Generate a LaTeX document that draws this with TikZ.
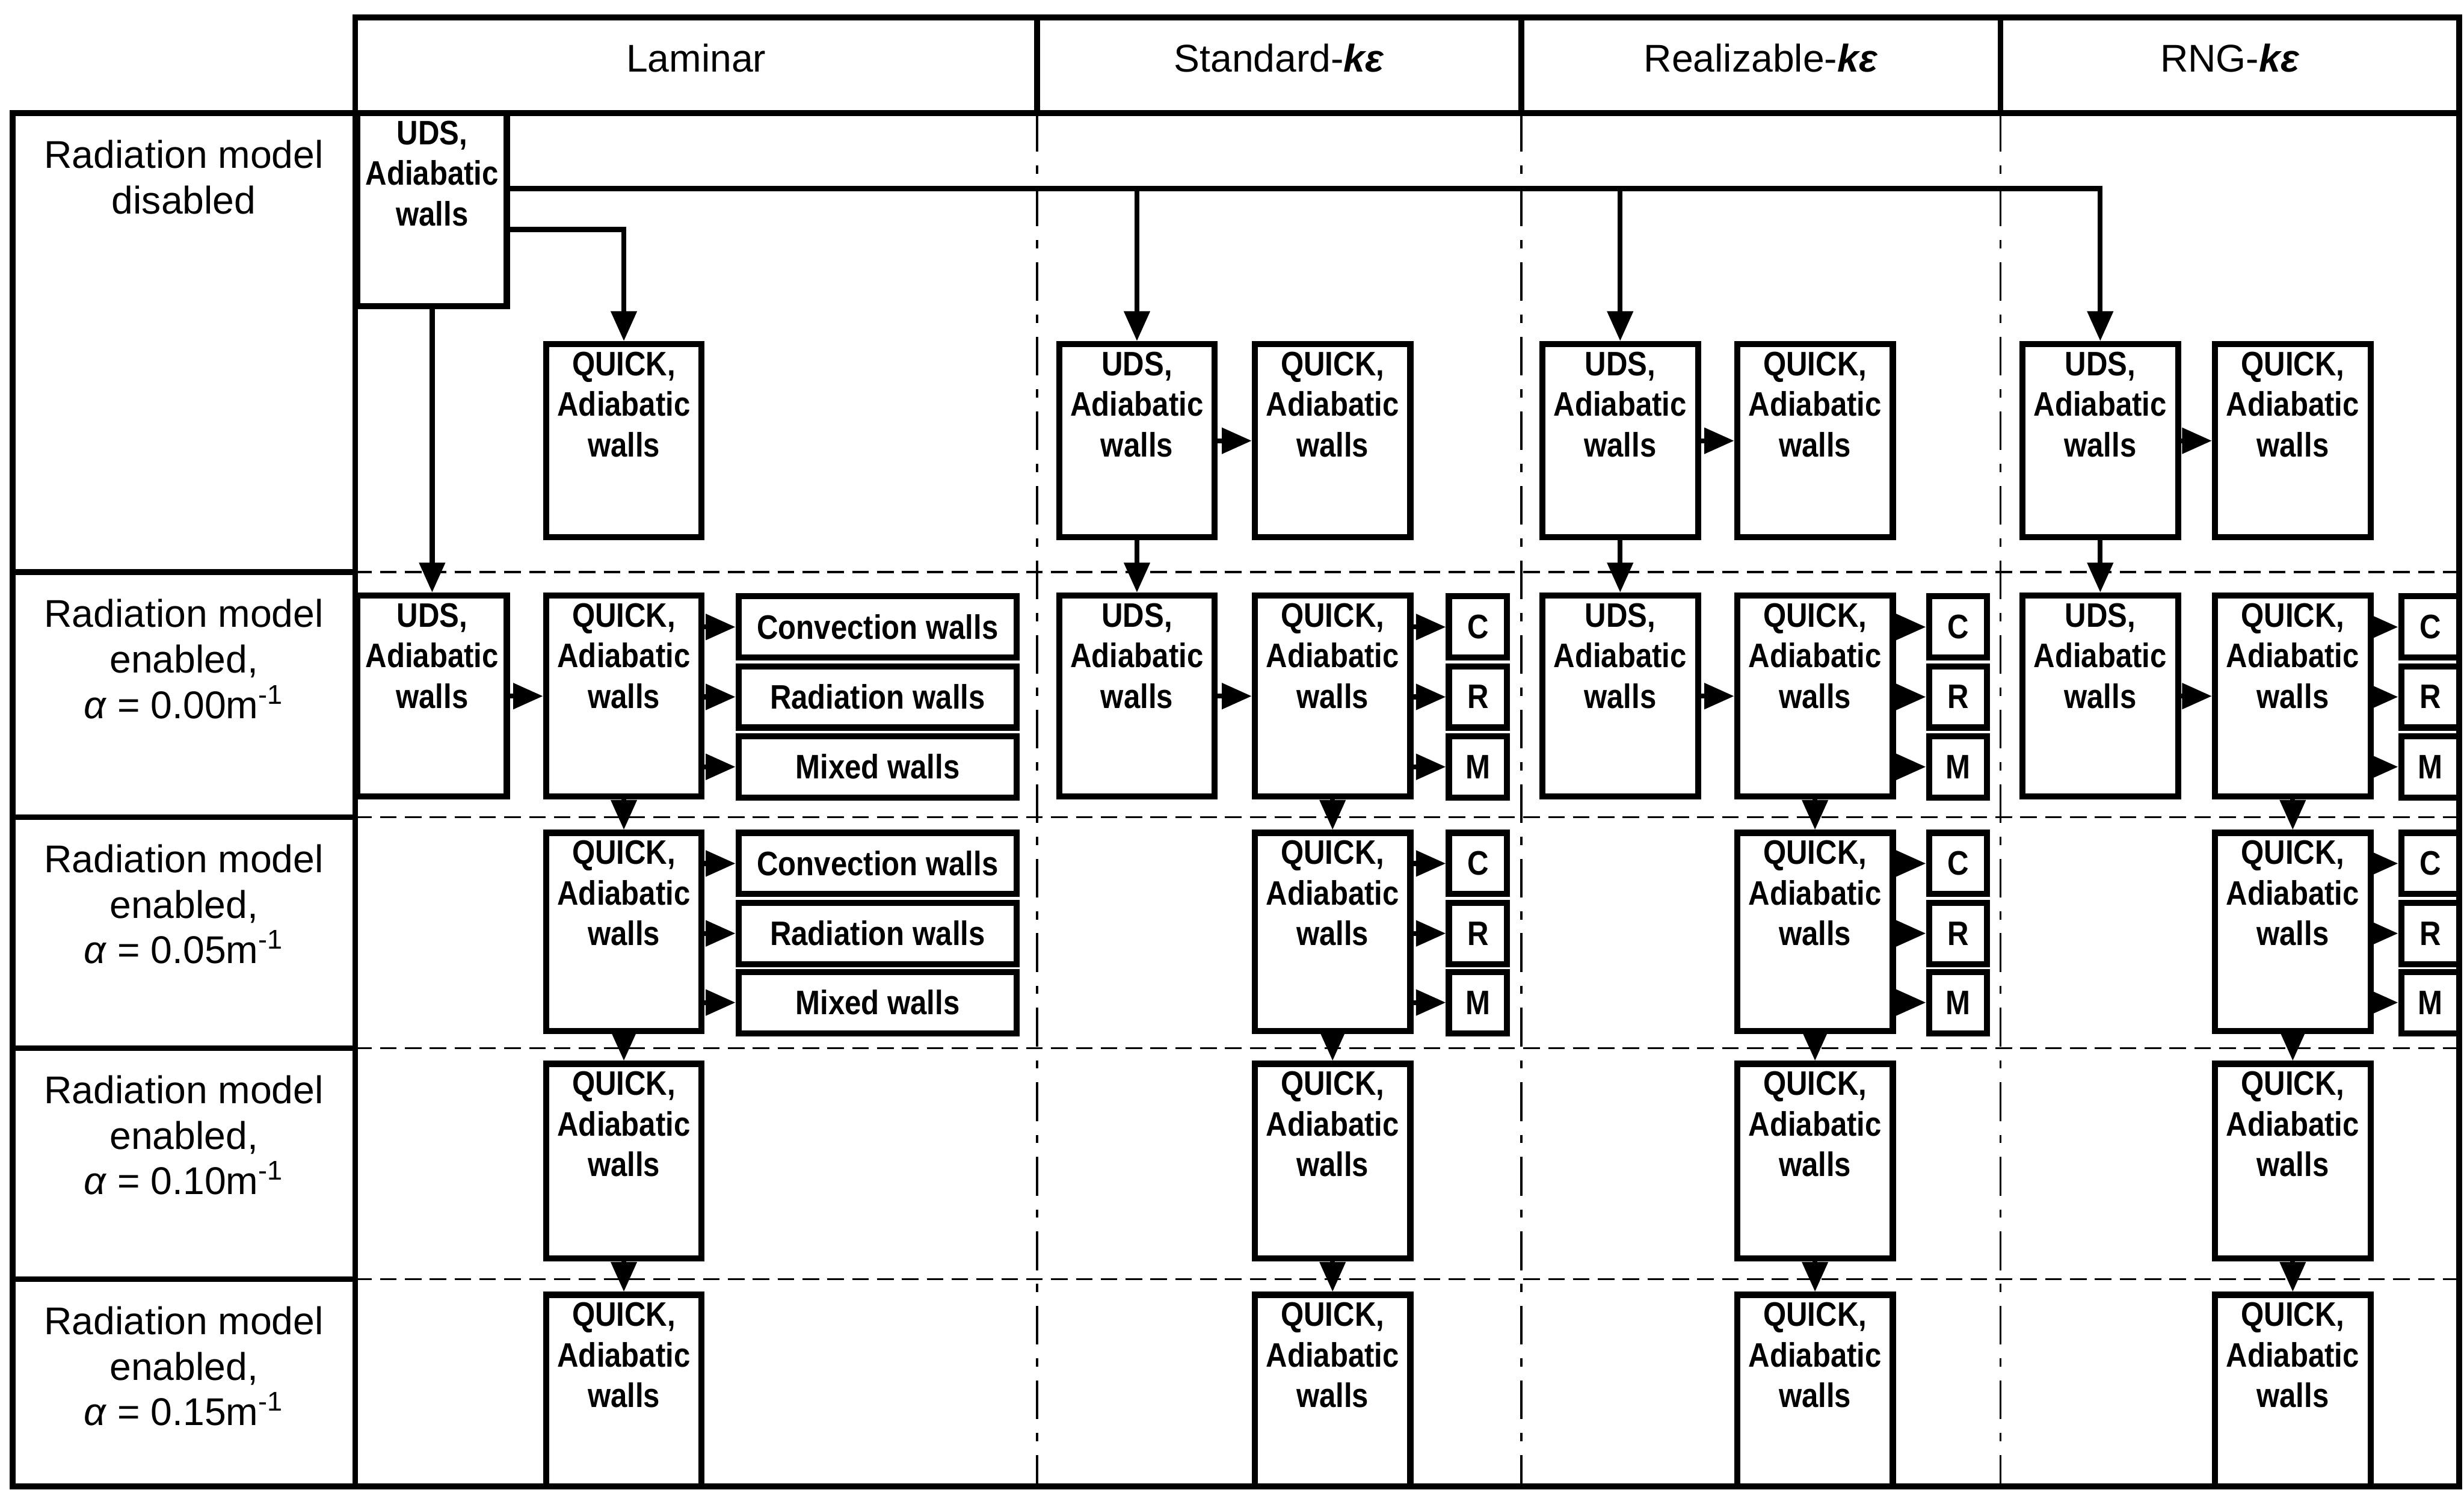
\documentclass[tikz,border=0pt]{standalone}
\usepackage{fontspec}
\setmainfont{Liberation Sans}
\newfontfamily\boxfont[FakeStretch=0.87]{Liberation Sans}
\usepackage{tikz}
\usetikzlibrary{arrows.meta}

\begin{document}
\begin{tikzpicture}[
    frame/.style={line width=2.1pt},
    rowsep/.style={line width=0.8pt, dash pattern=on 6pt off 3pt},
    colsep/.style={line width=0.8pt, dash pattern=on 14pt off 5pt on 3pt off 5pt},
    head/.style={font=\fontsize{14}{17}\selectfont},
    rowlabel/.style={font=\fontsize{14}{16.5}\selectfont, align=center, anchor=north, inner sep=0pt},
    boxtext/.style={font=\boxfont\bfseries\fontsize{12.3}{14.7}\selectfont, align=center, anchor=north, inner sep=0pt, yshift=-0.13cm},
    block/.style={rectangle, draw, fill=white, line width=2.2pt, minimum width=1.98cm, inner sep=0pt, font=\boxfont\bfseries\fontsize{12.3}{14.7}\selectfont},
    uds/.style={block, label={[boxtext]north:{UDS,\\Adiabatic\\walls}}},
    quick/.style={block, label={[boxtext]north:{QUICK,\\Adiabatic\\walls}}},
    wall/.style={block, minimum width=3.54cm, minimum height=0.78cm},
    tag/.style={block, minimum width=0.74cm, minimum height=0.78cm},
    arrow/.style={-{Triangle[length=0.38cm, width=0.32cm]}, line width=1.8pt}
]
\useasboundingbox (0,0) rectangle (31.36,-18.96);

% Table frame
\draw[frame] (4.52,-0.22) rectangle (31.3,-1.44);
\draw[frame] (0.16,-1.44) rectangle (4.52,-18.92);
\draw[frame] (31.3,-1.44) -- (31.3,-18.92) -- (4.52,-18.92);
\draw[frame] (13.2,-0.22) -- (13.2,-1.44);
\draw[frame] (19.36,-0.22) -- (19.36,-1.44);
\draw[frame] (25.46,-0.22) -- (25.46,-1.44);

% Row lines
\draw[frame] (0.16,-7.28) -- (4.52,-7.28);
\draw[frame] (0.16,-10.4) -- (4.52,-10.4);
\draw[frame] (0.16,-13.34) -- (4.52,-13.34);
\draw[frame] (0.16,-16.28) -- (4.52,-16.28);
\draw[rowsep] (4.52,-7.28) -- (31.3,-7.28);
\draw[rowsep] (4.52,-10.4) -- (31.3,-10.4);
\draw[rowsep] (4.52,-13.34) -- (31.3,-13.34);
\draw[rowsep] (4.52,-16.28) -- (31.3,-16.28);

% Column lines
\draw[colsep] (13.2,-1.44) -- (13.2,-18.92);
\draw[colsep] (19.36,-1.44) -- (19.36,-18.92);
\draw[colsep] (25.46,-1.44) -- (25.46,-18.92);

% Flow models
\node[head] (head_lam) at (8.86,-0.74) {Laminar};
\node[head] (head_std) at (16.28,-0.74) {Standard-\textbf{\textit{kε}}};
\node[head] (head_real) at (22.41,-0.74) {Realizable-\textbf{\textit{kε}}};
\node[head] (head_rng) at (28.38,-0.74) {RNG-\textbf{\textit{kε}}};

% Radiation settings
\node[rowlabel] (row_off) at (2.34,-1.78) {Radiation model\\disabled};
\node[rowlabel] (row_a00) at (2.34,-7.62) {Radiation model\\enabled,\\\textit{α} = 0.00m\textsuperscript{-1}};
\node[rowlabel] (row_a05) at (2.34,-10.74) {Radiation model\\enabled,\\\textit{α} = 0.05m\textsuperscript{-1}};
\node[rowlabel] (row_a10) at (2.34,-13.68) {Radiation model\\enabled,\\\textit{α} = 0.10m\textsuperscript{-1}};
\node[rowlabel] (row_a15) at (2.34,-16.62) {Radiation model\\enabled,\\\textit{α} = 0.15m\textsuperscript{-1}};

% Laminar
\node[uds, minimum width=1.9cm, minimum height=2.46cm] (lam_uds1) at (5.5,-2.67) {};
\node[quick, minimum height=2.46cm] (lam_quick1) at (7.94,-5.61) {};
\node[uds, minimum width=1.9cm, minimum height=2.56cm] (lam_uds2) at (5.5,-8.86) {};
\node[quick, minimum height=2.56cm] (lam_quick2) at (7.94,-8.86) {};
\node[wall] (lam_conv2) at (11.17,-7.98) {Convection walls};
\node[wall] (lam_rad2) at (11.17,-8.87) {Radiation walls};
\node[wall] (lam_mix2) at (11.17,-9.76) {Mixed walls};
\node[quick, minimum height=2.52cm] (lam_quick3) at (7.94,-11.86) {};
\node[wall] (lam_conv3) at (11.17,-10.99) {Convection walls};
\node[wall] (lam_rad3) at (11.17,-11.88) {Radiation walls};
\node[wall] (lam_mix3) at (11.17,-12.76) {Mixed walls};
\node[quick, minimum height=2.48cm] (lam_quick4) at (7.94,-14.78) {};
\node[quick, minimum height=2.44cm] (lam_quick5) at (7.94,-17.7) {};

% Standard k-epsilon
\node[uds, minimum height=2.46cm] (std_uds1) at (14.47,-5.61) {};
\node[quick, minimum height=2.46cm] (std_quick1) at (16.96,-5.61) {};
\node[uds, minimum height=2.56cm] (std_uds2) at (14.47,-8.86) {};
\node[quick, minimum height=2.56cm] (std_quick2) at (16.96,-8.86) {};
\node[tag] (std_c2) at (18.81,-7.98) {C};
\node[tag] (std_r2) at (18.81,-8.87) {R};
\node[tag] (std_m2) at (18.81,-9.76) {M};
\node[quick, minimum height=2.52cm] (std_quick3) at (16.96,-11.86) {};
\node[tag] (std_c3) at (18.81,-10.99) {C};
\node[tag] (std_r3) at (18.81,-11.88) {R};
\node[tag] (std_m3) at (18.81,-12.76) {M};
\node[quick, minimum height=2.48cm] (std_quick4) at (16.96,-14.78) {};
\node[quick, minimum height=2.44cm] (std_quick5) at (16.96,-17.7) {};

% Realizable k-epsilon
\node[uds, minimum height=2.46cm] (real_uds1) at (20.62,-5.61) {};
\node[quick, minimum height=2.46cm] (real_quick1) at (23.1,-5.61) {};
\node[uds, minimum height=2.56cm] (real_uds2) at (20.62,-8.86) {};
\node[quick, minimum height=2.56cm] (real_quick2) at (23.1,-8.86) {};
\node[tag] (real_c2) at (24.92,-7.98) {C};
\node[tag] (real_r2) at (24.92,-8.87) {R};
\node[tag] (real_m2) at (24.92,-9.76) {M};
\node[quick, minimum height=2.52cm] (real_quick3) at (23.1,-11.86) {};
\node[tag] (real_c3) at (24.92,-10.99) {C};
\node[tag] (real_r3) at (24.92,-11.88) {R};
\node[tag] (real_m3) at (24.92,-12.76) {M};
\node[quick, minimum height=2.48cm] (real_quick4) at (23.1,-14.78) {};
\node[quick, minimum height=2.44cm] (real_quick5) at (23.1,-17.7) {};

% RNG k-epsilon
\node[uds, minimum height=2.46cm] (rng_uds1) at (26.73,-5.61) {};
\node[quick, minimum height=2.46cm] (rng_quick1) at (29.18,-5.61) {};
\node[uds, minimum height=2.56cm] (rng_uds2) at (26.73,-8.86) {};
\node[quick, minimum height=2.56cm] (rng_quick2) at (29.18,-8.86) {};
\node[tag] (rng_c2) at (30.93,-7.98) {C};
\node[tag] (rng_r2) at (30.93,-8.87) {R};
\node[tag] (rng_m2) at (30.93,-9.76) {M};
\node[quick, minimum height=2.52cm] (rng_quick3) at (29.18,-11.86) {};
\node[tag] (rng_c3) at (30.93,-10.99) {C};
\node[tag] (rng_r3) at (30.93,-11.88) {R};
\node[tag] (rng_m3) at (30.93,-12.76) {M};
\node[quick, minimum height=2.48cm] (rng_quick4) at (29.18,-14.78) {};
\node[quick, minimum height=2.44cm] (rng_quick5) at (29.18,-17.7) {};

% Branches out of the first laminar run
\coordinate (bus) at ([yshift=0.27cm]lam_uds1.east);
\coordinate (tap) at ([yshift=-0.25cm]lam_uds1.east);
\draw[arrow] (bus) -| (rng_uds1);
\draw[arrow] (bus -| std_uds1) -- (std_uds1);
\draw[arrow] (bus -| real_uds1) -- (real_uds1);
\draw[arrow] (tap) -| (lam_quick1);
\draw[arrow] (lam_uds1) -- (lam_uds2);

% Radiation model disabled
\draw[arrow] (std_uds1) -- (std_quick1);
\draw[arrow] (real_uds1) -- (real_quick1);
\draw[arrow] (rng_uds1) -- (rng_quick1);
\draw[arrow] (std_uds1) -- (std_uds2);
\draw[arrow] (real_uds1) -- (real_uds2);
\draw[arrow] (rng_uds1) -- (rng_uds2);

% alpha = 0.00
\draw[arrow] (lam_uds2) -- (lam_quick2);
\draw[arrow] (std_uds2) -- (std_quick2);
\draw[arrow] (real_uds2) -- (real_quick2);
\draw[arrow] (rng_uds2) -- (rng_quick2);
\draw[arrow] (lam_quick2.east |- lam_conv2) -- (lam_conv2);
\draw[arrow] (lam_quick2.east |- lam_rad2) -- (lam_rad2);
\draw[arrow] (lam_quick2.east |- lam_mix2) -- (lam_mix2);
\draw[arrow] (std_quick2.east |- std_c2) -- (std_c2);
\draw[arrow] (std_quick2.east |- std_r2) -- (std_r2);
\draw[arrow] (std_quick2.east |- std_m2) -- (std_m2);
\draw[arrow] (real_quick2.east |- real_c2) -- (real_c2);
\draw[arrow] (real_quick2.east |- real_r2) -- (real_r2);
\draw[arrow] (real_quick2.east |- real_m2) -- (real_m2);
\draw[arrow] (rng_quick2.east |- rng_c2) -- (rng_c2);
\draw[arrow] (rng_quick2.east |- rng_r2) -- (rng_r2);
\draw[arrow] (rng_quick2.east |- rng_m2) -- (rng_m2);

% alpha = 0.05
\draw[arrow] (lam_quick2) -- (lam_quick3);
\draw[arrow] (std_quick2) -- (std_quick3);
\draw[arrow] (real_quick2) -- (real_quick3);
\draw[arrow] (rng_quick2) -- (rng_quick3);
\draw[arrow] (lam_quick3.east |- lam_conv3) -- (lam_conv3);
\draw[arrow] (lam_quick3.east |- lam_rad3) -- (lam_rad3);
\draw[arrow] (lam_quick3.east |- lam_mix3) -- (lam_mix3);
\draw[arrow] (std_quick3.east |- std_c3) -- (std_c3);
\draw[arrow] (std_quick3.east |- std_r3) -- (std_r3);
\draw[arrow] (std_quick3.east |- std_m3) -- (std_m3);
\draw[arrow] (real_quick3.east |- real_c3) -- (real_c3);
\draw[arrow] (real_quick3.east |- real_r3) -- (real_r3);
\draw[arrow] (real_quick3.east |- real_m3) -- (real_m3);
\draw[arrow] (rng_quick3.east |- rng_c3) -- (rng_c3);
\draw[arrow] (rng_quick3.east |- rng_r3) -- (rng_r3);
\draw[arrow] (rng_quick3.east |- rng_m3) -- (rng_m3);

% alpha = 0.10 and 0.15
\draw[arrow] (lam_quick3) -- (lam_quick4);
\draw[arrow] (std_quick3) -- (std_quick4);
\draw[arrow] (real_quick3) -- (real_quick4);
\draw[arrow] (rng_quick3) -- (rng_quick4);
\draw[arrow] (lam_quick4) -- (lam_quick5);
\draw[arrow] (std_quick4) -- (std_quick5);
\draw[arrow] (real_quick4) -- (real_quick5);
\draw[arrow] (rng_quick4) -- (rng_quick5);

\end{tikzpicture}
\end{document}
